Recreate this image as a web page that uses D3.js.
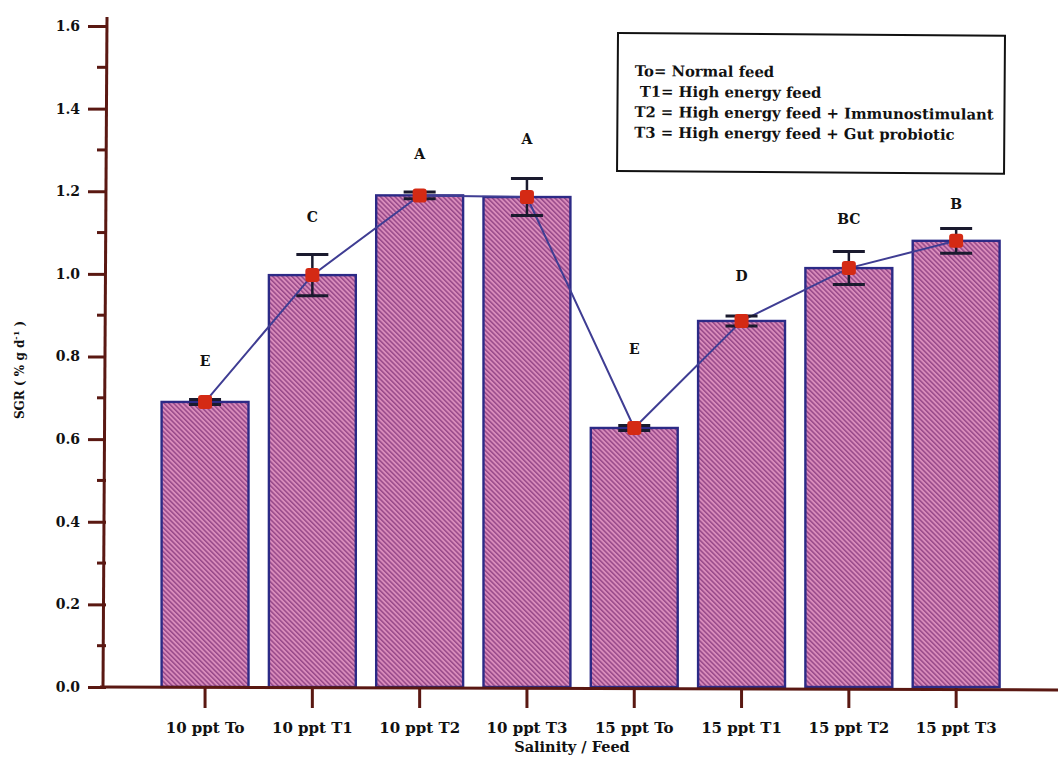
<!DOCTYPE html>
<html>
<head>
<meta charset="utf-8">
<script src="https://d3js.org/d3.v7.min.js"></script>
<style>
  body { margin: 0; background: #fff; }
  text { font-family: "DejaVu Serif", "Liberation Serif", serif; font-weight: bold; fill: #111; }
</style>
</head>
<body>
<div id="chart"></div>
<script>
// ---- data ----
const categories = ["10 ppt To", "10 ppt T1", "10 ppt T2", "10 ppt T3", "15 ppt To", "15 ppt T1", "15 ppt T2", "15 ppt T3"];
const sgrValues  = [0.69, 0.997, 1.19, 1.186, 0.627, 0.886, 1.014, 1.08];
const sgrErrors  = [0.006, 0.05, 0.008, 0.045, 0.006, 0.012, 0.04, 0.03];
const sigLetters = ["E", "C", "A", "A", "E", "D", "BC", "B"];
const letterGap  = [0.1, 0.14, 0.1, 0.14, 0.19, 0.11, 0.12, 0.09];
const yTicks     = [0.0, 0.2, 0.4, 0.6, 0.8, 1.0, 1.2, 1.4, 1.6];
const legendLines = ["To= Normal feed", " T1= High energy feed", "T2 = High energy feed + Immunostimulant", "T3 = High energy feed + Gut probiotic"];

const W = 1058, H = 758;
const axisCol = "#5a1812", barEdge = "#2c2a86", lineCol = "#3f3d93";

const svg = d3.select("#chart").append("svg").attr("width", W).attr("height", H);

// hatch pattern for the bars
const pat = svg.append("defs").append("pattern")
    .attr("id", "hatch").attr("patternUnits", "userSpaceOnUse")
    .attr("width", 3.4).attr("height", 4)
    .attr("patternTransform", "rotate(-45)");
pat.append("rect").attr("width", 3.4).attr("height", 4).attr("fill", "#d98cbb");
pat.append("rect").attr("width", 1.5).attr("height", 4).attr("fill", "#974889");

const x = d3.scaleBand().domain(categories).range([151.4, 1009.8]).paddingInner(0.19).paddingOuter(0.095);
const y = d3.scaleLinear().domain([0, 1.6]).range([687, 26]);
const cx = i => x(categories[i]) + x.bandwidth() / 2;

// bars
svg.selectAll(".bar").data(sgrValues).enter().append("rect")
    .attr("x", (d, i) => x(categories[i]))
    .attr("y", d => y(d))
    .attr("width", x.bandwidth())
    .attr("height", d => y(0) - y(d))
    .attr("fill", "url(#hatch)")
    .attr("stroke", barEdge).attr("stroke-width", 2.4);

// x axis line and ticks
svg.append("line").attr("x1", 100).attr("x2", W).attr("y1", 687).attr("y2", 690)
    .attr("stroke", axisCol).attr("stroke-width", 3);
const xAxis = d3.axisBottom(x).tickSize(20).tickPadding(14);
const gx = svg.append("g").attr("transform", "translate(0,688)").call(xAxis);
gx.select(".domain").remove();
gx.selectAll(".tick line").attr("stroke", axisCol).attr("stroke-width", 3);
gx.selectAll(".tick text").attr("font-size", 15).attr("fill", "#111")
    .style("font-family", "'DejaVu Serif', serif").style("font-weight", "bold");

svg.append("text").attr("x", 572).attr("y", 752).attr("text-anchor", "middle")
    .attr("font-size", 14.5).text("Salinity / Feed");

// y axis
svg.append("line").attr("x1", 107).attr("x2", 103).attr("y1", 17).attr("y2", 688)
    .attr("stroke", axisCol).attr("stroke-width", 3);
const yAxis = d3.axisLeft(y).tickValues(yTicks).tickFormat(d3.format(".1f")).tickSize(18).tickPadding(8);
const gy = svg.append("g").attr("transform", "translate(106,0)").call(yAxis);
gy.select(".domain").remove();
gy.selectAll(".tick line").attr("stroke", axisCol).attr("stroke-width", 3);
gy.selectAll(".tick text").attr("font-size", 14).attr("fill", "#111")
    .style("font-family", "'DejaVu Serif', serif").style("font-weight", "bold");
const minor = d3.range(0.1, 1.6, 0.2);
svg.selectAll(".minor").data(minor).enter().append("line")
    .attr("x1", 97).attr("x2", 106)
    .attr("y1", d => y(d)).attr("y2", d => y(d))
    .attr("stroke", axisCol).attr("stroke-width", 3);

svg.append("text")
    .attr("transform", "translate(24,370) rotate(-90)")
    .attr("text-anchor", "middle").attr("font-size", 12)
    .html("SGR ( % g d<tspan dy='-5' font-size='8'>-1</tspan><tspan dy='5'> )</tspan>");

// connecting line
const line = d3.line().x((d, i) => cx(i)).y(d => y(d));
svg.append("path").datum(sgrValues).attr("d", line)
    .attr("fill", "none").attr("stroke", lineCol).attr("stroke-width", 2);

// error bars
const eb = svg.selectAll(".err").data(sgrValues).enter().append("g");
eb.append("line")
    .attr("x1", (d, i) => cx(i)).attr("x2", (d, i) => cx(i))
    .attr("y1", (d, i) => y(d + sgrErrors[i])).attr("y2", (d, i) => y(d - sgrErrors[i]))
    .attr("stroke", "#1a1a2e").attr("stroke-width", 2.5);
[1, -1].forEach(s => {
  eb.append("line")
    .attr("x1", (d, i) => cx(i) - 16).attr("x2", (d, i) => cx(i) + 16)
    .attr("y1", (d, i) => y(d + s * sgrErrors[i])).attr("y2", (d, i) => y(d + s * sgrErrors[i]))
    .attr("stroke", "#1a1a2e").attr("stroke-width", 3);
});

// markers
svg.selectAll(".pt").data(sgrValues).enter().append("rect")
    .attr("x", (d, i) => cx(i) - 7).attr("y", d => y(d) - 7)
    .attr("width", 14).attr("height", 14).attr("rx", 3)
    .attr("fill", "#d42a14");

// significance letters
svg.selectAll(".sig").data(sgrValues).enter().append("text")
    .attr("x", (d, i) => cx(i)).attr("y", (d, i) => y(d + letterGap[i]) + 5)
    .attr("text-anchor", "middle").attr("font-size", 14)
    .text((d, i) => sigLetters[i]);

// legend box
const lg = svg.append("g").attr("transform", "translate(618,33) rotate(0.4)");
lg.append("rect").attr("width", 387).attr("height", 138)
    .attr("fill", "#fff").attr("stroke", "#111").attr("stroke-width", 2);
lg.selectAll("text").data(legendLines).enter().append("text")
    .attr("x", 17).attr("y", (d, i) => 43 + i * 20.5)
    .attr("font-size", 14.8).attr("xml:space", "preserve")
    .style("white-space", "pre")
    .text(d => d);
</script>
</body>
</html>
